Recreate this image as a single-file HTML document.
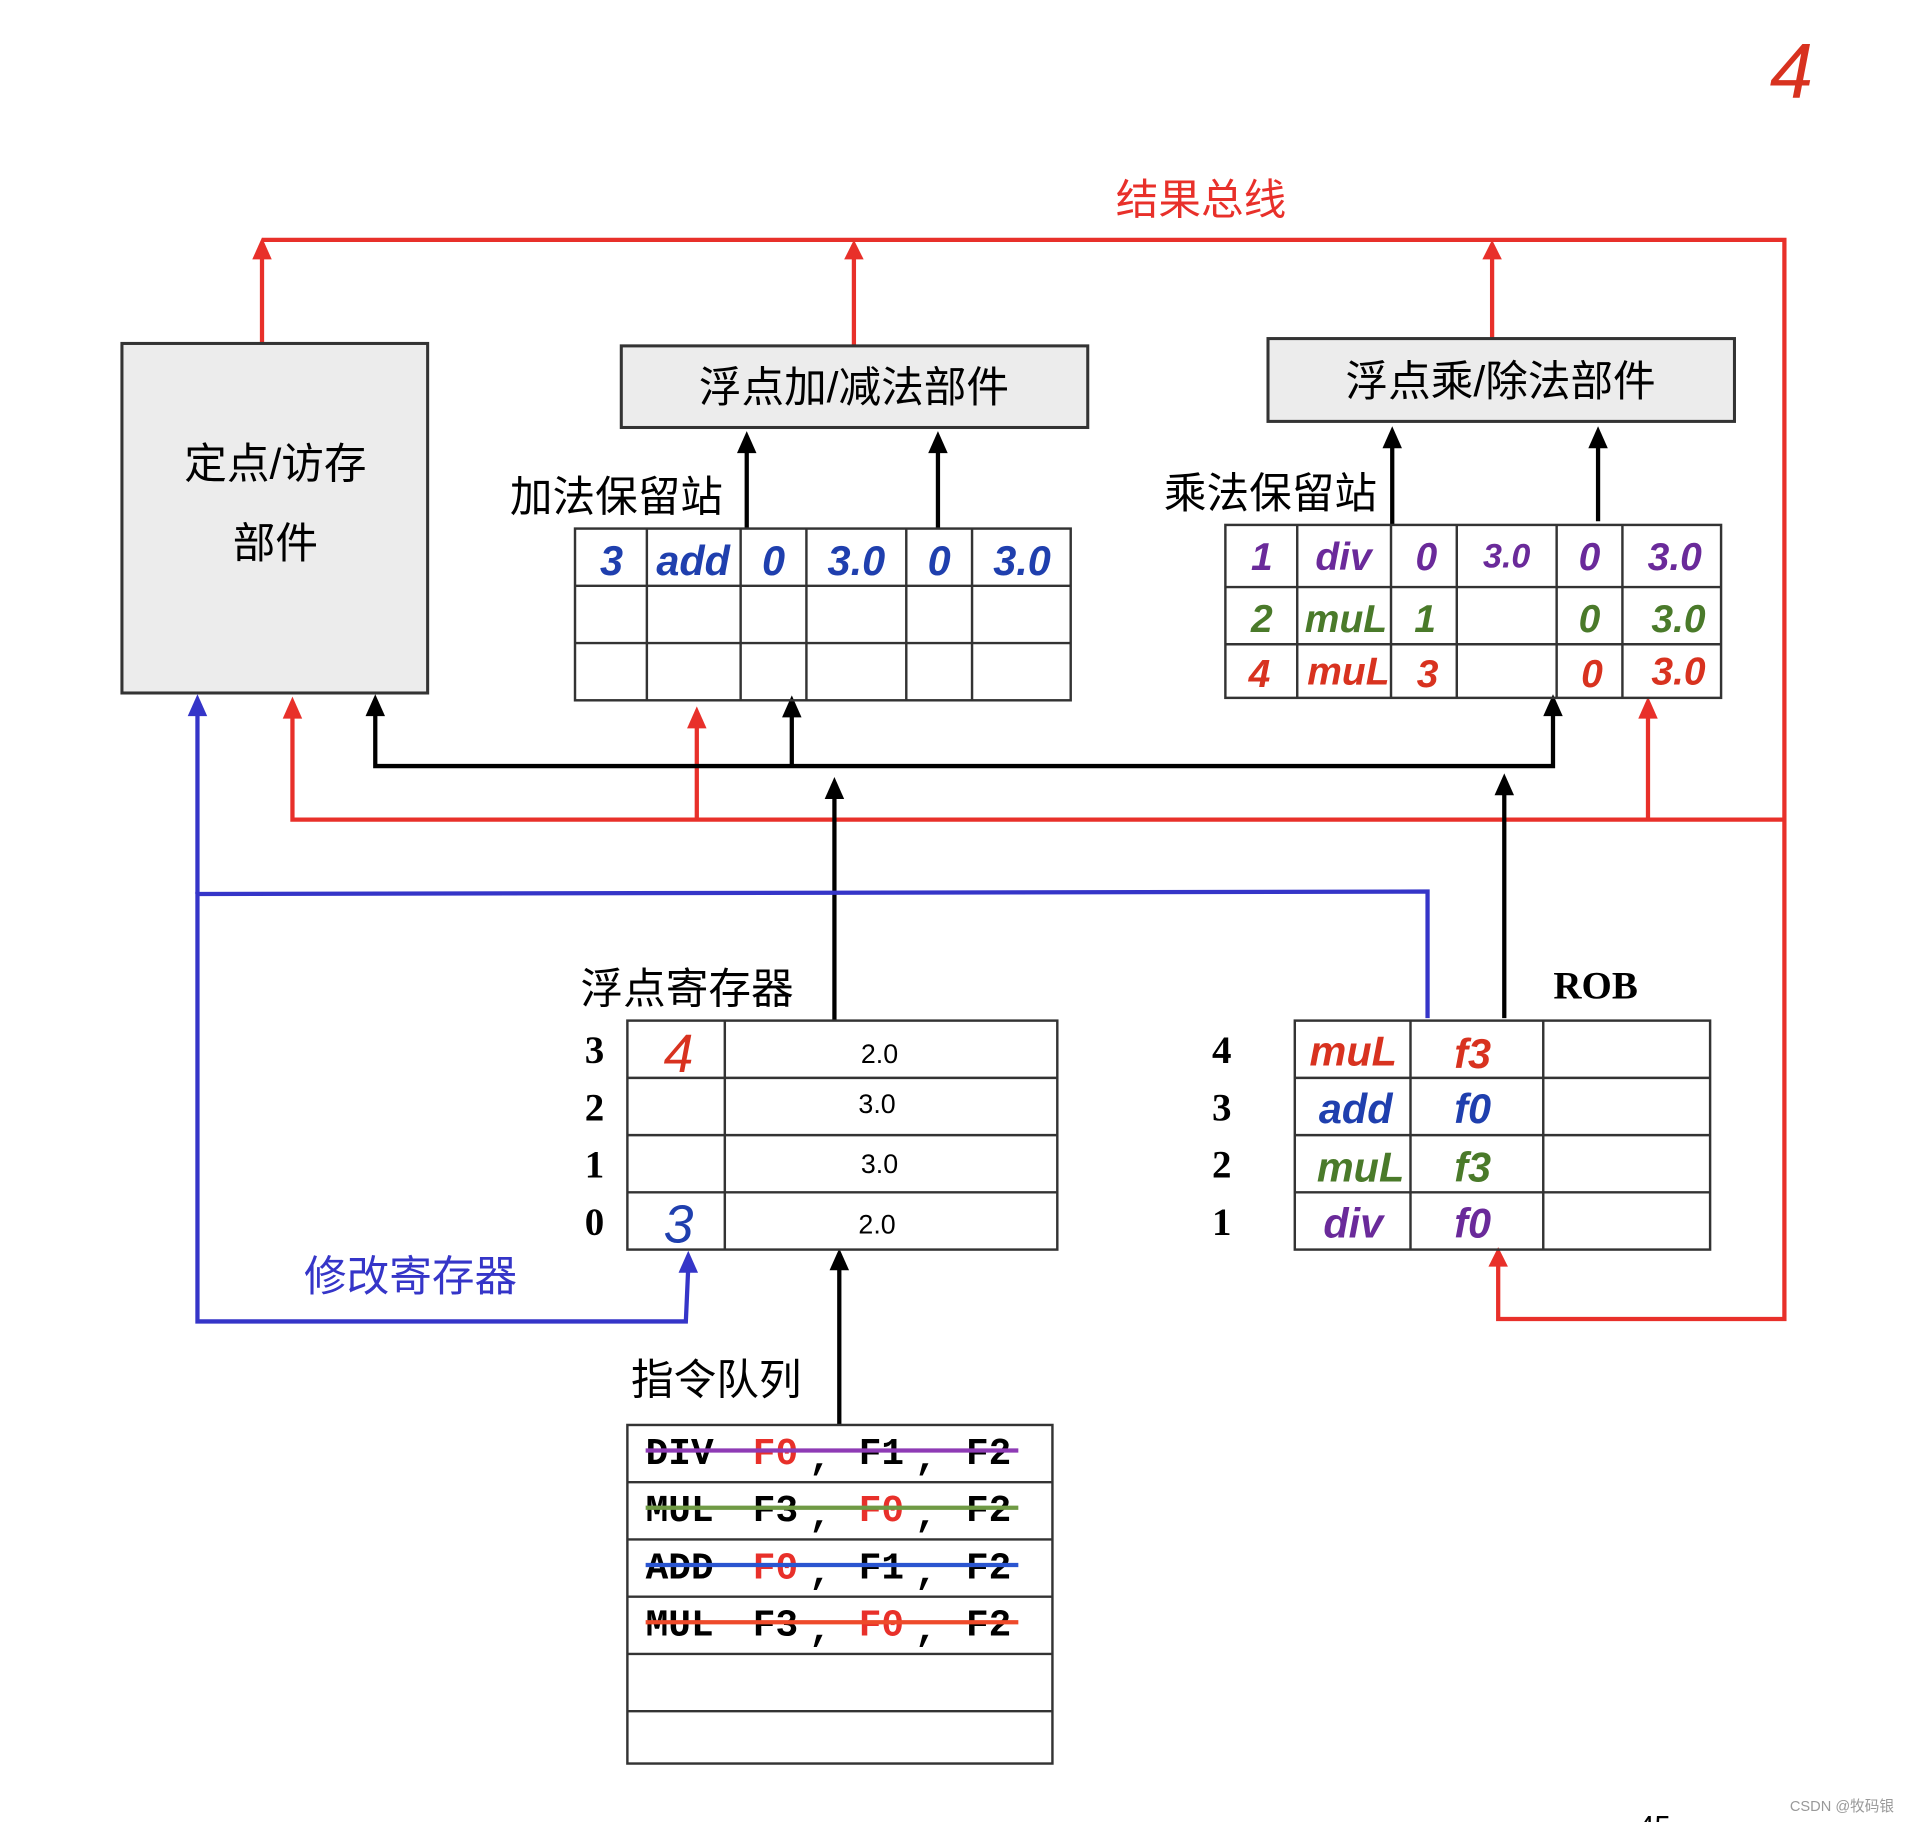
<!DOCTYPE html>
<html><head><meta charset="utf-8"><style>
html,body{margin:0;padding:0;background:#fff}
svg{display:block}
.cn{font-family:"Liberation Sans","Noto Sans CJK SC",sans-serif}
.sf{font-family:"Liberation Serif",serif;font-weight:bold}
.hw{font-family:"Liberation Sans",sans-serif;font-style:italic;font-weight:bold}
.mo{font-family:"Liberation Mono",monospace;font-weight:bold;font-size:31px}
</style></head><body>
<svg width="1910" height="1822" viewBox="0 0 1568 1496" xmlns="http://www.w3.org/2000/svg">
<rect width="1568" height="1496" fill="#fff"/>
<text x="1453" y="80" font-size="64" fill="#d8321f" font-family="Liberation Sans,sans-serif" font-style="italic">4</text>
<text x="986" y="176" font-size="35" fill="#e8302a" text-anchor="middle" class="cn">结果总线</text>

<g stroke="#e8302a" stroke-width="3.5" fill="none">
<polyline points="215,197 1465,197 1465,1083 1230,1083 1230,1036"/>
<line x1="215" y1="281" x2="215" y2="210"/>
<line x1="701" y1="283" x2="701" y2="210"/>
<line x1="1225" y1="278" x2="1225" y2="210"/>
<polyline points="240,585 240,673 1465,673"/>
<line x1="572" y1="673" x2="572" y2="594"/>
<line x1="1353" y1="673" x2="1353" y2="585"/>
</g>
<g fill="#e8302a">
<path d="M207,213 L215,195 L223,213z"/><path d="M693,213 L701,197 L709,213z"/><path d="M1217,213 L1225,197 L1233,213z"/>
<path d="M232,590 L240,572 L248,590z"/><path d="M564,598 L572,580 L580,598z"/><path d="M1345,590 L1353,572 L1361,590z"/>
<path d="M1222,1040 L1230,1024 L1238,1040z"/>
</g>

<rect x="100" y="282" width="251" height="287" fill="#ececec" stroke="#333" stroke-width="2.5"/>
<text x="226" y="393" font-size="35" text-anchor="middle" class="cn">定点/访存</text>
<text x="226" y="458" font-size="35" text-anchor="middle" class="cn">部件</text>
<rect x="510" y="284" width="383" height="67" fill="#ececec" stroke="#333" stroke-width="2.5"/>
<text x="701" y="330" font-size="35" text-anchor="middle" class="cn">浮点加/减法部件</text>
<rect x="1041" y="278" width="383" height="68" fill="#ececec" stroke="#333" stroke-width="2.5"/>
<text x="1232" y="325" font-size="35" text-anchor="middle" class="cn">浮点乘/除法部件</text>

<g stroke="#000" stroke-width="3.5" fill="none">
<line x1="613" y1="434" x2="613" y2="368"/>
<line x1="770" y1="434" x2="770" y2="368"/>
<line x1="1143" y1="431" x2="1143" y2="364"/>
<line x1="1312" y1="428" x2="1312" y2="364"/>
<polyline points="308,585 308,629 1275,629 1275,585"/>
<line x1="650" y1="629" x2="650" y2="586"/>
<line x1="685" y1="838" x2="685" y2="653"/>
<line x1="1235" y1="836" x2="1235" y2="650"/>
<line x1="689" y1="1170" x2="689" y2="1040"/>
</g>
<g fill="#000">
<path d="M605,372 L613,354 L621,372z"/><path d="M762,372 L770,354 L778,372z"/>
<path d="M1135,368 L1143,350 L1151,368z"/><path d="M1304,368 L1312,350 L1320,368z"/>
<path d="M300,588 L308,570 L316,588z"/><path d="M642,589 L650,571 L658,589z"/><path d="M1267,588 L1275,570 L1283,588z"/>
<path d="M677,656 L685,638 L693,656z"/><path d="M1227,653 L1235,635 L1243,653z"/>
<path d="M681,1043 L689,1025 L697,1043z"/>
</g>

<g stroke="#3535c8" stroke-width="3.5" fill="none">
<polyline points="1172,836 1172,732 162,734 162,1085 563,1085 565,1040"/>
<line x1="162" y1="734" x2="162" y2="585"/>
</g>
<g fill="#3535c8"><path d="M154,588 L162,570 L170,588z"/><path d="M557,1045 L565,1027 L573,1045z"/></g>
<text x="337" y="1060" font-size="35" fill="#3535c8" text-anchor="middle" class="cn">修改寄存器</text>

<text x="506" y="420" font-size="35" text-anchor="middle" class="cn">加法保留站</text>
<g stroke="#333" stroke-width="2" fill="none">
<rect x="472" y="434" width="407" height="141"/>
<line x1="472" y1="481" x2="879" y2="481"/><line x1="472" y1="528" x2="879" y2="528"/>
<line x1="531" y1="434" x2="531" y2="575"/><line x1="608" y1="434" x2="608" y2="575"/><line x1="662" y1="434" x2="662" y2="575"/><line x1="744" y1="434" x2="744" y2="575"/><line x1="798" y1="434" x2="798" y2="575"/>
</g>
<g fill="#1f3fae" font-size="34" class="hw" text-anchor="middle">
<text x="502" y="472">3</text><text x="569" y="472">add</text><text x="635" y="472">0</text><text x="703" y="472">3.0</text><text x="771" y="472">0</text><text x="839" y="472">3.0</text>
</g>

<text x="1043" y="417" font-size="35" text-anchor="middle" class="cn">乘法保留站</text>
<g stroke="#333" stroke-width="2" fill="none">
<rect x="1006" y="431" width="407" height="142"/>
<line x1="1006" y1="482" x2="1413" y2="482"/><line x1="1006" y1="529" x2="1413" y2="529"/>
<line x1="1065" y1="431" x2="1065" y2="573"/><line x1="1142" y1="431" x2="1142" y2="573"/><line x1="1196" y1="431" x2="1196" y2="573"/><line x1="1278" y1="431" x2="1278" y2="573"/><line x1="1332" y1="431" x2="1332" y2="573"/>
</g>
<g font-size="32" class="hw" text-anchor="middle">
<g fill="#6a2a9a"><text x="1036" y="468">1</text><text x="1103" y="468">div</text><text x="1171" y="468">0</text><text x="1237" y="466" font-size="28">3.0</text><text x="1305" y="468">0</text><text x="1375" y="468">3.0</text></g>
<g fill="#4a7a2a"><text x="1036" y="519">2</text><text x="1105" y="519">muL</text><text x="1170" y="519">1</text><text x="1305" y="519">0</text><text x="1378" y="519">3.0</text></g>
<g fill="#d8321f"><text x="1034" y="564">4</text><text x="1107" y="562">muL</text><text x="1172" y="564">3</text><text x="1307" y="564">0</text><text x="1378" y="562">3.0</text></g>
</g>

<text x="564" y="824" font-size="35" text-anchor="middle" class="cn">浮点寄存器</text>
<g stroke="#333" stroke-width="2" fill="none">
<rect x="515" y="838" width="353" height="188"/>
<line x1="515" y1="885" x2="868" y2="885"/><line x1="515" y1="932" x2="868" y2="932"/><line x1="515" y1="979" x2="868" y2="979"/>
<line x1="595" y1="838" x2="595" y2="1026"/>
</g>
<g class="sf" font-size="32" text-anchor="middle">
<text x="488" y="873">3</text><text x="488" y="920">2</text><text x="488" y="967">1</text><text x="488" y="1014">0</text>
</g>
<g font-family="Liberation Sans,sans-serif" font-size="22" text-anchor="middle">
<text x="722" y="873">2.0</text><text x="720" y="914">3.0</text><text x="722" y="963">3.0</text><text x="720" y="1013">2.0</text>
</g>
<text x="557" y="880" font-size="44" fill="#d8321f" text-anchor="middle" font-family="Liberation Sans,sans-serif" font-style="italic">4</text>
<text x="557" y="1020" font-size="44" fill="#1f3fae" text-anchor="middle" font-family="Liberation Sans,sans-serif" font-style="italic">3</text>

<text x="1310" y="820" font-size="32" text-anchor="middle" class="sf">ROB</text>
<g stroke="#333" stroke-width="2" fill="none">
<rect x="1063" y="838" width="341" height="188"/>
<line x1="1063" y1="885" x2="1404" y2="885"/><line x1="1063" y1="932" x2="1404" y2="932"/><line x1="1063" y1="979" x2="1404" y2="979"/>
<line x1="1158" y1="838" x2="1158" y2="1026"/><line x1="1267" y1="838" x2="1267" y2="1026"/>
</g>
<g class="sf" font-size="32" text-anchor="middle">
<text x="1003" y="873">4</text><text x="1003" y="920">3</text><text x="1003" y="967">2</text><text x="1003" y="1014">1</text>
</g>
<g class="hw" font-size="34" text-anchor="middle">
<text x="1111" y="875" fill="#d8321f">muL</text><text x="1209" y="877" fill="#d8321f">f3</text>
<text x="1113" y="922" fill="#1f3fae">add</text><text x="1209" y="922" fill="#1f3fae">f0</text>
<text x="1117" y="970" fill="#4a7a2a">muL</text><text x="1209" y="970" fill="#4a7a2a">f3</text>
<text x="1111" y="1016" fill="#6a2a9a">div</text><text x="1209" y="1016" fill="#6a2a9a">f0</text>
</g>

<text x="588" y="1145" font-size="35" text-anchor="middle" class="cn">指令队列</text>
<g stroke="#333" stroke-width="2" fill="none">
<rect x="515" y="1170" width="349" height="278"/>
<line x1="515" y1="1217" x2="864" y2="1217"/><line x1="515" y1="1264" x2="864" y2="1264"/><line x1="515" y1="1311" x2="864" y2="1311"/><line x1="515" y1="1358" x2="864" y2="1358"/><line x1="515" y1="1405" x2="864" y2="1405"/>
</g>
<g class="mo">
<text x="530" y="1202">DIV</text><text x="618" y="1202" fill="#e8302a">F0</text><text x="664" y="1206">,</text><text x="705" y="1202">F1</text><text x="751" y="1206">,</text><text x="793" y="1202">F2</text>
<text x="530" y="1249">MUL</text><text x="618" y="1249">F3</text><text x="664" y="1253">,</text><text x="705" y="1249" fill="#e8302a">F0</text><text x="751" y="1253">,</text><text x="793" y="1249">F2</text>
<text x="530" y="1296">ADD</text><text x="618" y="1296" fill="#e8302a">F0</text><text x="664" y="1300">,</text><text x="705" y="1296">F1</text><text x="751" y="1300">,</text><text x="793" y="1296">F2</text>
<text x="530" y="1343">MUL</text><text x="618" y="1343">F3</text><text x="664" y="1347">,</text><text x="705" y="1343" fill="#e8302a">F0</text><text x="751" y="1347">,</text><text x="793" y="1343">F2</text>
</g>
<g stroke-width="3.5">
<line x1="530" y1="1191" x2="836" y2="1191" stroke="#8e3bb5"/>
<line x1="530" y1="1238" x2="836" y2="1238" stroke="#6f9a44"/>
<line x1="530" y1="1285" x2="836" y2="1285" stroke="#2a55d0"/>
<line x1="530" y1="1332" x2="836" y2="1332" stroke="#ee4a2a"/>
</g>
<text x="1345" y="1508" font-size="24" class="cn">45</text>
<text x="1555" y="1487" font-size="12" fill="#999" text-anchor="end" class="cn">CSDN @牧码银</text>
</svg>
</body></html>
